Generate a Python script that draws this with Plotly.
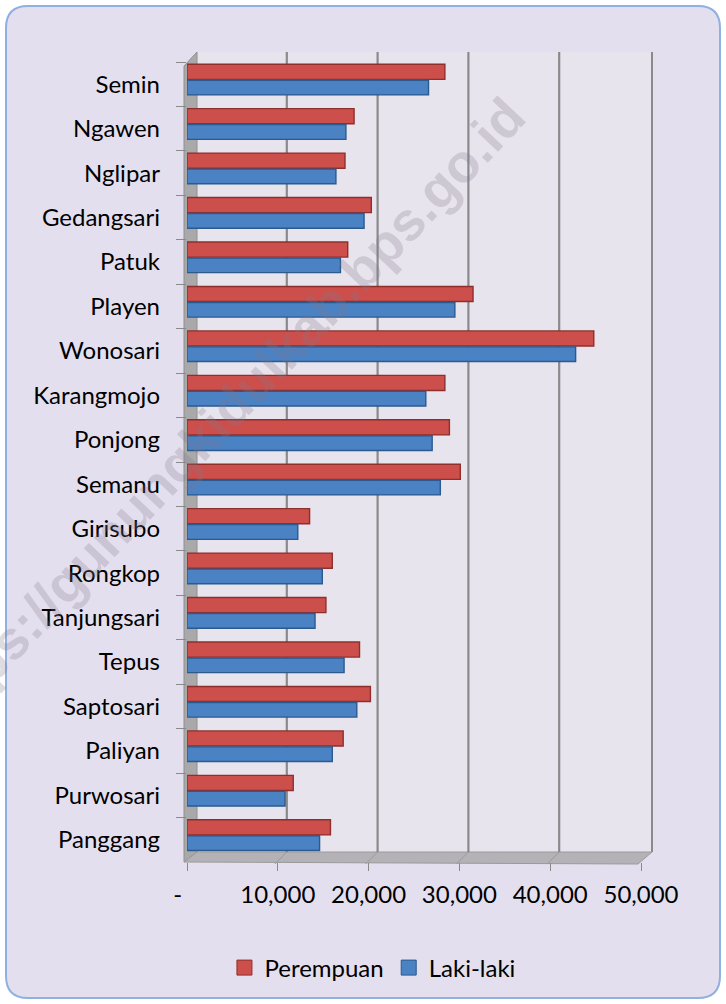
import plotly.graph_objects as go

W, H = 726, 1004

categories = ["Semin", "Ngawen", "Nglipar", "Gedangsari", "Patuk", "Playen",
              "Wonosari", "Karangmojo", "Ponjong", "Semanu", "Girisubo",
              "Rongkop", "Tanjungsari", "Tepus", "Saptosari", "Paliyan",
              "Purwosari", "Panggang"]
perempuan = [28400, 18400, 17400, 20300, 17700, 31500, 44800, 28400, 28900,
             30100, 13500, 16000, 15300, 19000, 20200, 17200, 11700, 15800]
laki_laki = [26600, 17500, 16400, 19500, 16900, 29500, 42800, 26300, 27000,
             27900, 12200, 14900, 14100, 17300, 18700, 16000, 10800, 14600]
tick_vals = [0, 10000, 20000, 30000, 40000, 50000]
tick_text = ["-\u00a0\u00a0\u00a0", "10,000", "20,000", "30,000", "40,000", "50,000"]

RED, RED_EDGE = "#cc4f4b", "#8e2f2c"
BLUE, BLUE_EDGE = "#4a82c4", "#2a5a8e"


def px(x):
    return x / W


def py(y):
    return 1 - y / H


font_family = "Lato, 'Open Sans', sans-serif"

fig = go.Figure()
fig.add_trace(go.Bar(
    y=categories, x=perempuan, orientation="h", name="Perempuan",
    marker=dict(color=RED, line=dict(color=RED_EDGE, width=1.4)),
    offset=-0.45, width=0.34, showlegend=False,
))
fig.add_trace(go.Bar(
    y=categories, x=laki_laki, orientation="h", name="Laki-laki",
    marker=dict(color=BLUE, line=dict(color=BLUE_EDGE, width=1.4)),
    offset=-0.09, width=0.33, showlegend=False,
))
# legend entries (square swatches)
for name, c, e in [("Perempuan", RED, RED_EDGE), ("Laki-laki", BLUE, BLUE_EDGE)]:
    fig.add_trace(go.Scatter(
        x=[None], y=[None], mode="markers", name=name,
        marker=dict(symbol="square", size=15, color=c, line=dict(color=e, width=1)),
    ))

shapes = []
# outer rounded frame
x0, y0, x1, y1, r = 6, 6, 720, 998, 22
path = (f"M {px(x0+r)},{py(y0)} L {px(x1-r)},{py(y0)} "
        f"Q {px(x1)},{py(y0)} {px(x1)},{py(y0+r)} "
        f"L {px(x1)},{py(y1-r)} Q {px(x1)},{py(y1)} {px(x1-r)},{py(y1)} "
        f"L {px(x0+r)},{py(y1)} Q {px(x0)},{py(y1)} {px(x0)},{py(y1-r)} "
        f"L {px(x0)},{py(y0+r)} Q {px(x0)},{py(y0)} {px(x0+r)},{py(y0)} Z")
shapes.append(dict(type="path", xref="paper", yref="paper", path=path,
                   line=dict(color="#8fb0e0", width=2), fillcolor="#e4dfee",
                   layer="below"))
# back wall
shapes.append(dict(type="rect", xref="paper", yref="paper",
                   x0=px(197), x1=px(652), y0=py(852), y1=py(52),
                   fillcolor="#e8e4ee", line=dict(width=0), layer="below"))
shapes.append(dict(type="line", xref="paper", yref="paper",
                   x0=px(652), x1=px(652), y0=py(852), y1=py(52),
                   line=dict(color="#8a8a8a", width=2), layer="below"))
# left side wall
shapes.append(dict(type="path", xref="paper", yref="paper",
                   path=(f"M {px(184)},{py(66)} L {px(197)},{py(52)} L {px(197)},{py(852)} "
                         f"L {px(184)},{py(862)} Z"),
                   fillcolor="#a9a9a9", line=dict(color="#909090", width=1), layer="below"))
# floor
shapes.append(dict(type="path", xref="paper", yref="paper",
                   path=(f"M {px(184)},{py(862)} L {px(197)},{py(852)} L {px(652)},{py(852)} "
                         f"L {px(638)},{py(864)} Z"),
                   fillcolor="#b4b2b6", line=dict(color="#9a9a9a", width=1), layer="below"))
# back-wall gridlines (offset in pixels from the data positions)
for v in tick_vals[1:5]:
    shapes.append(dict(type="line", xref="x", yref="paper", xsizemode="pixel",
                       xanchor=v, x0=9, x1=9, y0=py(852), y1=py(52),
                       line=dict(color="#8a8a8a", width=2.2), layer="below"))
    shapes.append(dict(type="line", xref="x", yref="paper", xsizemode="pixel",
                       xanchor=v, x0=-3, x1=9, y0=py(864), y1=py(852),
                       line=dict(color="#9a9a9a", width=1), layer="below"))

fig.update_layout(
    width=W, height=H,
    margin=dict(l=0, r=0, t=0, b=0),
    paper_bgcolor="#ffffff",
    plot_bgcolor="rgba(0,0,0,0)",
    barmode="overlay",
    font=dict(family=font_family, size=24, color="#000000"),
    showlegend=True,
    legend=dict(orientation="h", x=0.513, xanchor="center", y=py(968),
                yanchor="middle", font=dict(size=24),
                bgcolor="rgba(0,0,0,0)", itemwidth=30, traceorder="normal",
                tracegroupgap=0),
    xaxis=dict(domain=[px(187), px(641)], range=[0, 50000],
               tickvals=tick_vals, ticktext=tick_text,
               showgrid=False, zeroline=False, showline=False,
               ticks="outside", ticklen=8, tickcolor="#8a8a8a",
               ticklabelstandoff=3, automargin=False,
               tickfont=dict(size=24)),
    yaxis=dict(domain=[py(862), py(62)], autorange="reversed",
               type="category", showgrid=False, zeroline=False,
               showline=False, ticks="outside", ticklen=10, tickson="boundaries",
               tickcolor="#8a8a8a", ticklabelstandoff=26, automargin=False,
               tickfont=dict(size=24)),
    shapes=shapes,
    annotations=[dict(text="<b>https://gunungkidulkab.bps.go.id</b>", xref="paper",
                      yref="paper", x=px(222), y=py(416), showarrow=False,
                      xanchor="center", yanchor="middle",
                      textangle=-46.6,
                      font=dict(family="Liberation Sans, Arial, sans-serif", size=54,
                                color="rgba(130,120,140,0.26)"))],
)

fig.write_html("out.html", config={"displayModeBar": False},
               post_script="document.body.style.margin='0';")
